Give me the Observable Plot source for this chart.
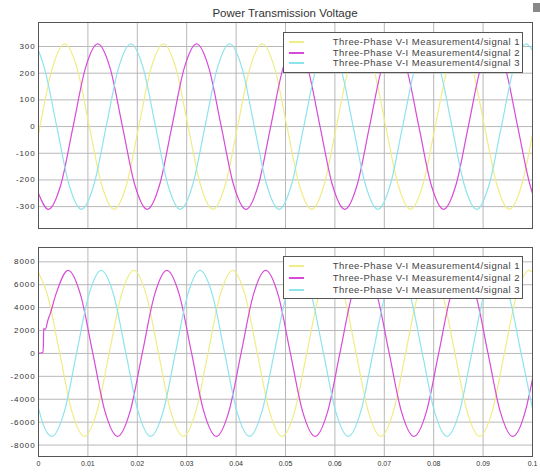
<!DOCTYPE html>
<html><head><meta charset="utf-8">
<script src="https://cdn.jsdelivr.net/npm/d3@7"></script>
<script src="https://cdn.jsdelivr.net/npm/@observablehq/plot@0.6"></script>
<style>
body{margin:0;background:#fff;font-family:"Liberation Sans",Arial,sans-serif;}
#wrap{position:relative;width:540px;height:472px;overflow:hidden;background:#fff;}
.abs{position:absolute;}
.title{left:38px;width:494px;top:6px;text-align:center;font-size:11.5px;color:#333;line-height:14px;}
.legend{border:1px solid #555;background:#fff;box-sizing:border-box;}
.row{position:absolute;left:0;right:0;height:11px;}
.sample{position:absolute;left:5px;width:15px;top:5px;height:0;border-top:2px solid;}
.lab{position:absolute;right:2px;top:0;font-size:9.5px;letter-spacing:0.45px;line-height:11px;color:#444;white-space:nowrap;}
.icon{left:533px;top:3px;width:7px;height:9px;background:#888;}
g[aria-label="y-axis tick label"] text{letter-spacing:0.9px;}
</style></head>
<body><div id="wrap"></div>
<script>
// ---------- data ----------
const seriesNames = ["Three-Phase V-I Measurement4/signal 1","Three-Phase V-I Measurement4/signal 2","Three-Phase V-I Measurement4/signal 3"];
const seriesColors = ["#f0ec86","#d84ad8","#8ee4ec"];
const xTicks = [0,0.01,0.02,0.03,0.04,0.05,0.06,0.07,0.08,0.09,0.1];
const xTickLabels = ["0","0.01","0.02","0.03","0.04","0.05","0.06","0.07","0.08","0.09","0.1"];
const yTicksTop = [-300,-200,-100,0,100,200,300];
const yTickLabelsTop = ["-300","-200","-100","0","100","200","300"];
const yTicksBot = [-8000,-6000,-4000,-2000,0,2000,4000,6000,8000];
const yTickLabelsBot = ["-8000","-6000","-4000","-2000","0","2000","4000","6000","8000"];

// top panel (voltage, signal 1 = yellow, 2 = magenta, 3 = cyan)
const tTop1 = [0,0.0003,0.0028,0.0053,0.0078,0.0103,0.0128,0.0153,0.0178,
  0.0203,0.0228,0.0253,0.0278,0.0303,0.0328,0.0353,0.0378,
  0.0403,0.0428,0.0453,0.0478,0.0503,0.0528,0.0553,0.0578,
  0.0603,0.0628,0.0653,0.0678,0.0703,0.0728,0.0753,0.0778,
  0.0803,0.0828,0.0853,0.0878,0.0903,0.0928,0.0953,0.0978,0.1];
const vTop1 = [-29,0,219,310,219,0,-219,-310,-219,
  0,219,310,219,0,-219,-310,-219,
  0,219,310,219,0,-219,-310,-219,
  0,219,310,219,0,-219,-310,-219,
  0,219,310,219,0,-219,-310,-219,-29];
const tTop2 = [0,0.002,0.0045,0.007,0.0095,0.012,0.0145,0.017,0.0195,
  0.022,0.0245,0.027,0.0295,0.032,0.0345,0.037,0.0395,
  0.042,0.0445,0.047,0.0495,0.052,0.0545,0.057,0.0595,
  0.062,0.0645,0.067,0.0695,0.072,0.0745,0.077,0.0795,
  0.082,0.0845,0.087,0.0895,0.092,0.0945,0.097,0.0995,0.1];
const vTop2 = [-251,-310,-219,0,219,310,219,0,-219,
  -310,-219,0,219,310,219,0,-219,
  -310,-219,0,219,310,219,0,-219,
  -310,-219,0,219,310,219,0,-219,
  -310,-219,0,219,310,219,0,-219,-251];
const tTop3 = [0,0.0012,0.0037,0.0062,0.0087,0.0112,0.0137,0.0162,0.0187,
  0.0212,0.0237,0.0262,0.0287,0.0312,0.0337,0.0362,0.0387,
  0.0412,0.0437,0.0462,0.0487,0.0512,0.0537,0.0562,0.0587,
  0.0612,0.0637,0.0662,0.0687,0.0712,0.0737,0.0762,0.0787,
  0.0812,0.0837,0.0862,0.0887,0.0912,0.0937,0.0962,0.0987,0.1];
const vTop3 = [285,219,0,-219,-310,-219,0,219,310,
  219,0,-219,-310,-219,0,219,310,
  219,0,-219,-310,-219,0,219,310,
  219,0,-219,-310,-219,0,219,310,
  219,0,-219,-310,-219,0,219,310,285];

// bottom panel
const tBot1 = [0,0.0018,0.0043,0.0068,0.0093,0.0118,0.0143,0.0168,0.0193,
  0.0218,0.0243,0.0268,0.0293,0.0318,0.0343,0.0368,0.0393,
  0.0418,0.0443,0.0468,0.0493,0.0518,0.0543,0.0568,0.0593,
  0.0618,0.0643,0.0668,0.0693,0.0718,0.0743,0.0768,0.0793,
  0.0818,0.0843,0.0868,0.0893,0.0918,0.0943,0.0968,0.0993,0.1];
const vBot1 = [7075,5130,0,-5130,-7250,-5130,0,5130,7250,
  5130,0,-5130,-7250,-5130,0,5130,7250,
  5130,0,-5130,-7250,-5130,0,5130,7250,
  5130,0,-5130,-7250,-5130,0,5130,7250,
  5130,0,-5130,-7250,-5130,0,5130,7250,7075];
const tBot2 = [0,0.0009,0.001,0.00105,0.0014,0.0019,0.0024,
  0.0035,0.006,0.0085,0.011,0.0135,0.016,0.0185,0.021,
  0.0235,0.026,0.0285,0.031,0.0335,0.036,0.0385,0.041,
  0.0435,0.046,0.0485,0.051,0.0535,0.056,0.0585,0.061,
  0.0635,0.066,0.0685,0.071,0.0735,0.076,0.0785,0.081,
  0.0835,0.086,0.0885,0.091,0.0935,0.096,0.0985,0.1];
const vBot2 = [0,100,900,2200,2100,2900,3500,
  5130,7250,5130,0,-5130,-7250,-5130,0,
  5130,7250,5130,0,-5130,-7250,-5130,0,
  5130,7250,5130,0,-5130,-7250,-5130,0,
  5130,7250,5130,0,-5130,-7250,-5130,0,
  5130,7250,5130,0,-5130,-7250,-5130,-2240];
const tBot3 = [0,0.0002,0.0027,0.0052,0.0077,0.0102,0.0127,0.0152,0.0177,
  0.0202,0.0227,0.0252,0.0277,0.0302,0.0327,0.0352,0.0377,
  0.0402,0.0427,0.0452,0.0477,0.0502,0.0527,0.0552,0.0577,
  0.0602,0.0627,0.0652,0.0677,0.0702,0.0727,0.0752,0.0777,
  0.0802,0.0827,0.0852,0.0877,0.0902,0.0927,0.0952,0.0977,0.1];
const vBot3 = [-4790,-5130,-7250,-5130,0,5130,7250,5130,0,
  -5130,-7250,-5130,0,5130,7250,5130,0,
  -5130,-7250,-5130,0,5130,7250,5130,0,
  -5130,-7250,-5130,0,5130,7250,5130,0,
  -5130,-7250,-5130,0,5130,7250,5130,0,-4790];

const titleText = "Power Transmission Voltage";

// ---------- build ----------
function rows(ts, vs) {
  return ts.flatMap((t, s) => t.map((x, i) => ({t: x, v: vs[s][i], key: seriesNames[s]})));
}
function panel({data, yDomain, yTicks, yLabels, height, mt, mb, showX}) {
  const yMap = new Map(yTicks.map((d, i) => [d, yLabels[i]]));
  const xMap = new Map(xTicks.map((d, i) => [d, xTickLabels[i]]));
  return Plot.plot({
    width: 540, height, marginLeft: 38, marginRight: 8, marginTop: mt, marginBottom: mb,
    style: {fontFamily: "'Liberation Sans', Arial, sans-serif", fontSize: "8px", color: "#333", background: "transparent"},
    x: {domain: [0, 0.1], label: null, axis: null},
    y: {domain: yDomain, label: null, axis: null},
    color: {domain: seriesNames, range: seriesColors},
    marks: [
      Plot.gridX(xTicks, {stroke: "#b8b8b8", strokeOpacity: 1}),
      Plot.gridY(yTicks, {stroke: "#b8b8b8", strokeOpacity: 1}),
      Plot.line(data, {x: "t", y: "v", z: "key", stroke: "key", curve: "monotone-x", strokeWidth: 1.2}),
      Plot.frame({stroke: "#555"}),
      Plot.axisY(yTicks, {tickSize: 0, tickPadding: 3, tickFormat: d => yMap.get(d), fill: "#333"}),
      showX ? Plot.axisX(xTicks, {tickSize: 0, tickPadding: 5, fontSize: 7, tickFormat: d => xMap.get(d), fill: "#333"}) : null
    ]
  });
}
const wrap = document.getElementById("wrap");
function place(el, top) { el.classList.add("abs"); el.style.left = "0px"; el.style.top = top + "px"; wrap.appendChild(el); }

const p1 = panel({data: rows([tTop1, tTop2, tTop3], [vTop1, vTop2, vTop3]), yDomain: [-382, 390],
  yTicks: yTicksTop, yLabels: yTickLabelsTop, height: 232, mt: 22, mb: 4, showX: false});
const p2 = panel({data: rows([tBot1, tBot2, tBot3], [vBot1, vBot2, vBot3]), yDomain: [-9000, 9250],
  yTicks: yTicksBot, yLabels: yTickLabelsBot, height: 240, mt: 15, mb: 16, showX: true});
place(p1, 0); place(p2, 232);

const title = document.createElement("div");
title.className = "abs title"; title.textContent = titleText; wrap.appendChild(title);
const icon = document.createElement("div"); icon.className = "abs icon"; wrap.appendChild(icon);

function legend(left, top, width, height, rowTop, rowGap) {
  const box = document.createElement("div");
  box.className = "abs legend";
  Object.assign(box.style, {left: left + "px", top: top + "px", width: width + "px", height: height + "px"});
  seriesNames.forEach((name, i) => {
    const r = document.createElement("div"); r.className = "row"; r.style.top = (rowTop + i * rowGap) + "px";
    const s = document.createElement("div"); s.className = "sample"; s.style.borderTopColor = seriesColors[i];
    const l = document.createElement("div"); l.className = "lab"; l.textContent = name;
    r.appendChild(s); r.appendChild(l); box.appendChild(r);
  });
  wrap.appendChild(box);
}
legend(283, 32, 240, 41, 3, 10.7);
legend(283, 256, 240, 43, 3, 12);
</script>
</body></html>
